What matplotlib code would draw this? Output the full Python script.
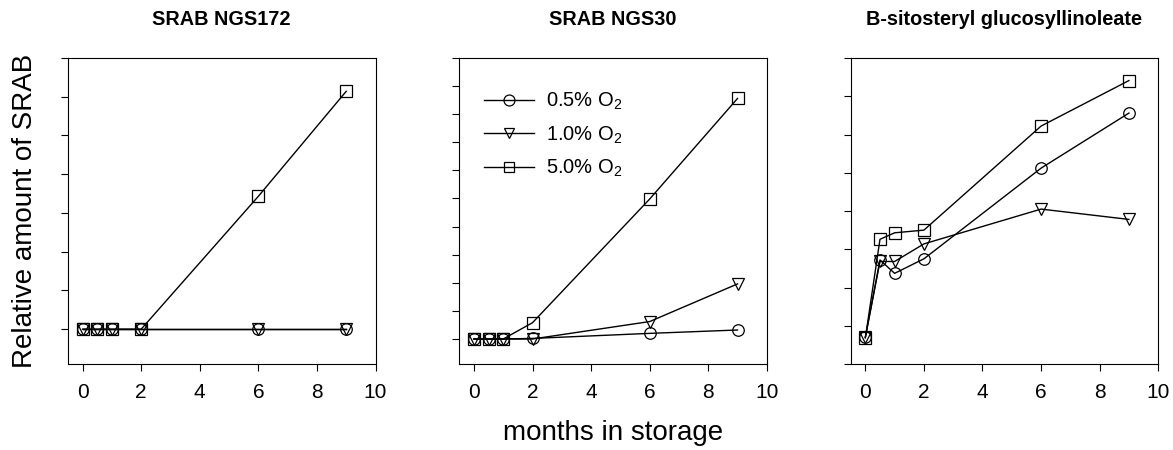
import matplotlib as mpl
mpl.use("Agg")
import matplotlib.pyplot as plt

plt.rcParams["font.family"] = ["Liberation Sans", "DejaVu Sans"]
plt.rcParams["mathtext.fontset"] = "custom"
plt.rcParams["mathtext.rm"] = "Liberation Sans"
plt.rcParams["mathtext.it"] = "Liberation Sans"

# months in storage
months = [0, 0.5, 1, 2, 6, 9]
series_labels = ["0.5% O$_2$", "1.0% O$_2$", "5.0% O$_2$"]
markers = ["o", "v", "s"]

titles = ["SRAB NGS172", "SRAB NGS30", "B-sitosteryl glucosyllinoleate"]

# relative amounts (arbitrary units)
ngs172_05 = [0, 0, 0, 0, 0, 0]
ngs172_10 = [0, 0, 0, 0, 0, 0]
ngs172_50 = [0, 0, 0, 0, 3.43, 6.14]

ngs30_05 = [0, 0, 0, 0.02, 0.20, 0.32]
ngs30_10 = [0, 0, 0, 0, 0.62, 1.96]
ngs30_50 = [0, 0, 0, 0.58, 4.98, 8.56]

sito_05 = [0.70, 2.72, 2.37, 2.75, 5.12, 6.56]
sito_10 = [0.70, 2.68, 2.68, 3.14, 4.05, 3.78]
sito_50 = [0.68, 3.26, 3.43, 3.50, 6.22, 7.41]

panels = [
    (ngs172_05, ngs172_10, ngs172_50),
    (ngs30_05, ngs30_10, ngs30_50),
    (sito_05, sito_10, sito_50),
]
ylims = [(-0.9, 7), (-0.89, 10), (0, 8)]
yticks = [range(0, 8), range(0, 11), range(0, 9)]

fig = plt.figure(figsize=(11.73, 4.5), dpi=100)
lefts = [68, 459.3, 850.7]

axes = []
for i, data in enumerate(panels):
    ax = fig.add_axes([lefts[i] / 1173, 86 / 450, 307.5 / 1173, 306 / 450])
    axes.append(ax)
    for vals, m, lab in zip(data, markers, series_labels):
        ax.plot(months, vals, color="black", lw=1.0, marker=m, ms=8.3,
                mfc="none", mec="black", mew=0.9, label=lab)
    ax.set_xlim(-0.5, 10)
    ax.set_ylim(*ylims[i])
    ax.set_xticks(range(0, 11, 2))
    ax.set_yticks(list(yticks[i]))
    ax.set_yticklabels([])
    ax.tick_params(direction="out", length=5, width=0.8, labelsize=15, pad=9)
    for s in ax.spines.values():
        s.set_linewidth(0.8)
    ax.set_title(titles[i], fontsize=14.3, fontweight="bold", pad=24)

axes[1].legend(loc="upper left", bbox_to_anchor=(0.08, 0.892), frameon=False,
               fontsize=14.5, handlelength=2.5, handletextpad=0.6,
               labelspacing=0.6, borderpad=0, borderaxespad=0,
               markerscale=0.95)

fig.text(25 / 1173, (450 - 211) / 450, "Relative amount of SRAB",
         rotation=90, ha="center", va="center", fontsize=20)
fig.text(613 / 1173, (450 - 433) / 450, "months in storage",
         ha="center", va="center", fontsize=20)

fig.savefig("out.png", dpi=100)
